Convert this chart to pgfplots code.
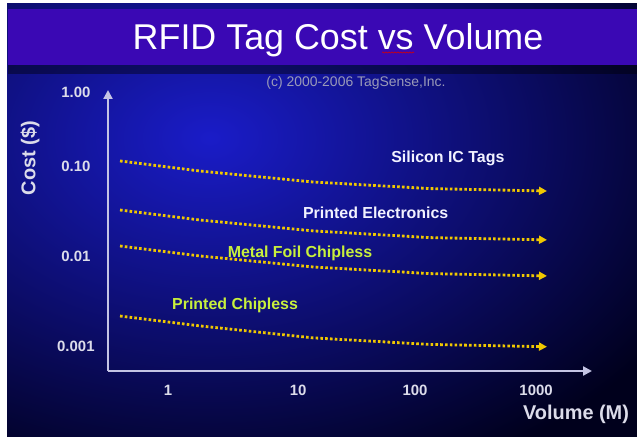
\documentclass[border=0pt]{standalone}
\usepackage{fontspec}
\setmainfont{Liberation Sans}
\usepackage{pgfplots}
\pgfplotsset{compat=1.18}
\usetikzlibrary{arrows.meta,decorations.pathmorphing}
\definecolor{bgtop}{HTML}{1A1CC8}
\definecolor{bgbot}{HTML}{00001C}
\definecolor{band}{HTML}{3A08B4}
\definecolor{copycol}{HTML}{9A9AB8}
\definecolor{axiscol}{HTML}{C4C4E4}
\definecolor{tickcol}{HTML}{DCDCEA}
\definecolor{dotcol}{HTML}{F0C800}
\definecolor{labwhite}{HTML}{F2F2FF}
\definecolor{labgreen}{HTML}{C8F03C}
\pgfplotsset{dotline/.style={draw=dotcol, line width=2.8bp, dash pattern=on 2.6bp off 2.2bp, -{Triangle[length=8bp,width=8bp]}, mark=none}}
\begin{document}
\begin{tikzpicture}[x=1bp,y=1bp]
\fill[white] (0,0) rectangle (637,438);
\fill[bgbot] (7,1) rectangle (637,434);
\begin{scope}
\clip (7,1) rectangle (637,434);
\shade[inner color=bgtop, outer color=bgbot] (210,300) ellipse [x radius=540, y radius=370];
\end{scope}
\fill[black, opacity=0.4] (8,364) rectangle (637,373);
\fill[band] (8,373) rectangle (637,429);
\node[anchor=base, text=white, inner sep=0pt, font=\fontsize{36}{40}\selectfont] at (338,388) {RFID Tag Cost vs Volume};
\draw[red!85!black, line width=0.6bp, decorate, decoration={snake, amplitude=0.6bp, segment length=3bp}] (382,385.5) -- (414,385.5);
\node[anchor=base, text=copycol, inner sep=0pt, font=\fontsize{14}{16}\selectfont] at (356,351) {(c) 2000-2006 TagSense,Inc.};
\begin{axis}[
  at={(108bp,67bp)}, anchor=south west,
  scale only axis, width=484bp, height=281bp,
  xmode=log, ymode=log,
  xmin=0.324, xmax=2857, ymin=0.000527, ymax=0.699,
  axis lines=left,
  axis line style={draw=axiscol, line width=2.2bp, -{Triangle[length=9bp,width=9bp]}},
  tick style={draw=none},
  xminorticks=false, yminorticks=false,
  xtick={1,11.5,103,1000}, xticklabels={1,10,100,1000},
  ytick={0.001,0.01,0.1,0.664}, yticklabels={0.001,0.01,0.10,1.00},
  xticklabel style={font=\bfseries\fontsize{15}{17}\selectfont, text=tickcol, anchor=center, yshift=-17bp},
  yticklabel style={font=\bfseries\fontsize{15}{17}\selectfont, text=tickcol, anchor=center, xshift=-30bp},
  xlabel={Volume (M)}, ylabel={Cost (\$)},
  every axis x label/.style={at={(axis description cs:0.967,-0.153)}, anchor=center, font=\bfseries\fontsize{20}{22}\selectfont, text=tickcol},
  every axis y label/.style={at={(axis description cs:-0.161,0.758)}, rotate=90, anchor=center, font=\bfseries\fontsize{20}{22}\selectfont, text=tickcol},
  clip=false,
]
% Silicon IC Tags
\addplot[dotline] coordinates {(0.406,0.1137) (1.82,0.0879) (15.2,0.0664) (136,0.0561) (1227,0.0527)};
% Printed Electronics
\addplot[dotline] coordinates {(0.406,0.0324) (1.82,0.0251) (15.2,0.0190) (136,0.0160) (1227,0.0151)};
% Metal Foil Chipless
\addplot[dotline] coordinates {(0.406,0.0129) (1.82,0.0100) (15.2,0.00755) (136,0.00637) (1227,0.0060)};
% Printed Chipless
\addplot[dotline] coordinates {(0.406,0.00215) (1.82,0.00167) (15.2,0.00123) (136,0.00104) (1227,0.00098)};
\node[text=labwhite, font=\bfseries\fontsize{16}{18}\selectfont] at (axis cs:191,0.1227) {Silicon IC Tags};
\node[text=labwhite, font=\bfseries\fontsize{16}{18}\selectfont] at (axis cs:49.3,0.0301) {Printed Electronics};
\node[text=labgreen, font=\bfseries\fontsize{16}{18}\selectfont] at (axis cs:11.9,0.0107) {Metal Foil Chipless};
\node[text=labgreen, font=\bfseries\fontsize{16}{18}\selectfont] at (axis cs:3.52,0.00286) {Printed Chipless};
\end{axis}
\end{tikzpicture}
\end{document}
